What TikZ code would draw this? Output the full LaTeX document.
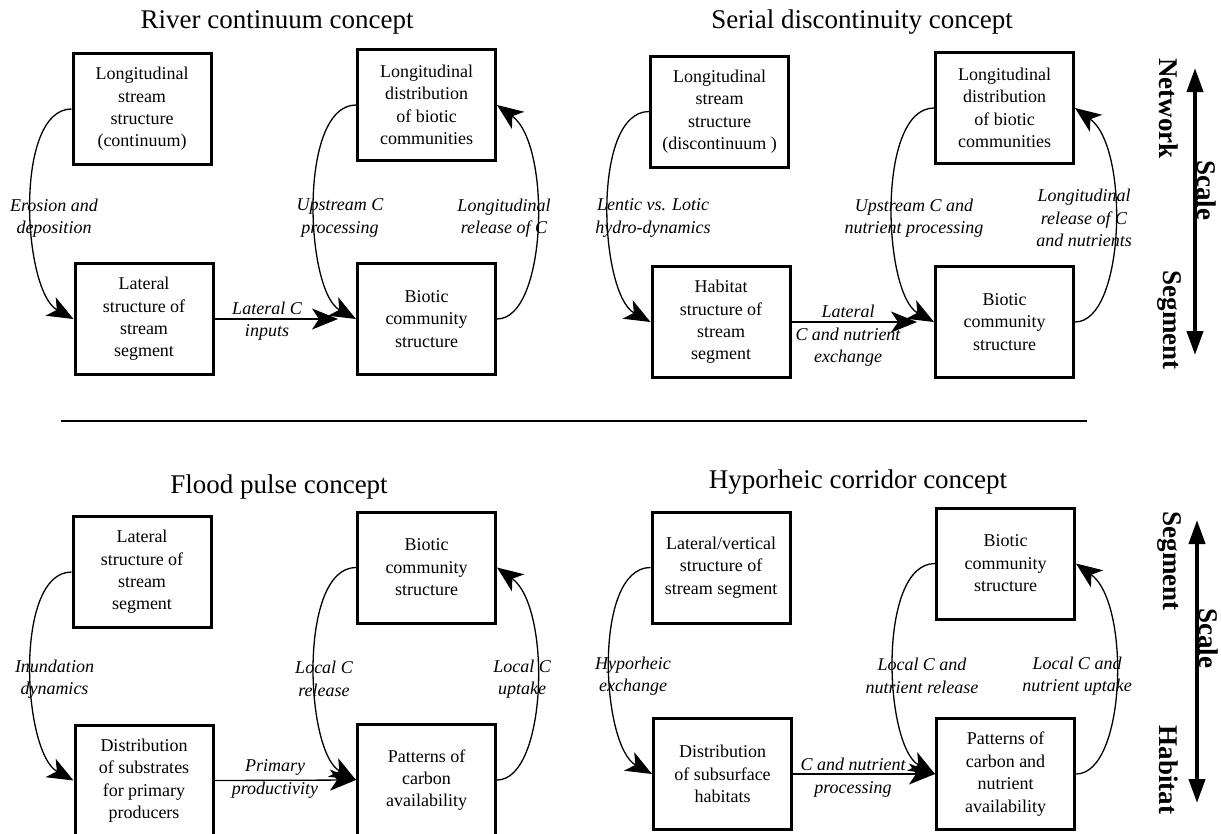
\documentclass[tikz,border=0pt]{standalone}
\usepackage{fontspec}
\setmainfont{Liberation Serif}
\usetikzlibrary{arrows.meta}

\begin{document}
\begin{tikzpicture}[x=1pt,y=-1pt,
    box/.style={draw, line width=3pt, minimum width=138pt, minimum height=111pt, inner sep=0pt, align=center, font=\fontsize{18}{22.4}\selectfont},
    lbl/.style={align=center, font=\itshape\fontsize{18}{22.4}\selectfont},
    ttl/.style={font=\fontsize{27}{32}\selectfont},
    scl/.style={rotate=-90, font=\bfseries\fontsize{27}{32}\selectfont},
    flow/.style={line width=1.3pt, -{Stealth[length=26pt,width=21pt,inset=7pt]}},
    scalearrow/.style={line width=4pt, {Triangle[length=24pt,width=16pt]}-{Triangle[length=24pt,width=16pt]}}]
    \useasboundingbox (0,0) rectangle (1221,833);
    \clip (0,0) rectangle (1221,833);

    %River continuum concept
    \node[ttl] (t1) at (277,22) {River continuum concept};
    \node[box] (a1) at (142,109) {Longitudinal\\stream\\structure\\(continuum)};
    \node[box] (a2) at (144,319) {Lateral\\structure of\\stream\\segment};
    \node[box] (a3) at (426.5,105) {Longitudinal\\distribution\\of biotic\\communities};
    \node[box] (a4) at (426.5,319) {Biotic\\community\\structure};
    \draw[flow] (a1.west) .. controls +(-58,0) and +(-51,-28) .. (a2.west);
    \draw[flow] (a3.west) .. controls +(-58,0) and +(-51,-28) .. (a4.west);
    \draw[flow] (a4.east) .. controls +(50,0) and +(55,40) .. (a3.east);
    \draw[flow, shorten >=18pt] (a2.east) -- (a4.west);
    \node[lbl] (la1) at (54,218) {Erosion and\\deposition};
    \node[lbl] (la2) at (340,218) {Upstream C\\processing};
    \node[lbl] (la3) at (504,218) {Longitudinal\\release of C};
    \node[lbl] (la4) at (267,321) {Lateral C\\inputs};

    %Serial discontinuity concept
    \node[ttl] (t2) at (862,22) {Serial discontinuity concept};
    \node[box] (b1) at (719.5,111.5) {Longitudinal\\stream\\structure\\(discontinuum )};
    \node[box] (b2) at (721,322) {Habitat\\structure of\\stream\\segment};
    \node[box] (b3) at (1004.5,108) {Longitudinal\\distribution\\of biotic\\communities};
    \node[box] (b4) at (1004.5,322) {Biotic\\community\\structure};
    \draw[flow] (b1.west) .. controls +(-58,0) and +(-51,-28) .. (b2.west);
    \draw[flow] (b3.west) .. controls +(-58,0) and +(-51,-28) .. (b4.west);
    \draw[flow] (b4.east) .. controls +(50,0) and +(55,40) .. (b3.east);
    \draw[flow, shorten >=17pt] (b2.east) -- (b4.west);
    \node[lbl] (lb1) at (653,218) {Lentic vs. Lotic\\hydro-dynamics};
    \node[lbl] (lb2) at (914,218) {Upstream C and\\nutrient processing};
    \node[lbl] (lb3) at (1084,218) {Longitudinal\\release of C\\and nutrients};
    \node[lbl] (lb4) at (848,336) {Lateral\\C and nutrient\\exchange};

    %escala
    \coordinate (s1) at (1195,68);
    \coordinate (s2) at (1195,355);
    \draw[scalearrow] (s1) -- (s2);
    \node[scl] (sn1) at (1169,108.5) {Network};
    \node[scl] (sn2) at (1169,320) {Segment};
    \node[scl] (sn3) at (1207,190) {Scale};

    \coordinate (sepL) at (61,421);
    \coordinate (sepR) at (1087,421);
    \draw[line width=1.5pt] (sepL) -- (sepR);

    %Flood pulse concept
    \node[ttl] (t3) at (279,487) {Flood pulse concept};
    \node[box] (c1) at (142,572) {Lateral\\structure of\\stream\\segment};
    \node[box] (c2) at (144,780.5) {Distribution\\of substrates\\for primary\\producers};
    \node[box] (c3) at (426.5,567.5) {Biotic\\community\\structure};
    \node[box] (c4) at (426.5,780) {Patterns of\\carbon\\availability};
    \draw[flow] (c1.west) .. controls +(-58,0) and +(-51,-28) .. (c2.west);
    \draw[flow] (c3.west) .. controls +(-58,0) and +(-51,-28) .. (c4.west);
    \draw[flow] (c4.east) .. controls +(50,0) and +(55,40) .. (c3.east);
    \draw[flow] (c2.east) -- (c4.west);
    \node[lbl] (lc1) at (54.5,679) {Inundation\\dynamics};
    \node[lbl] (lc2) at (324,679) {Local C\\release};
    \node[lbl] (lc3) at (522,679) {Local C\\uptake};
    \node[lbl] (lc4) at (275,779) {Primary\\productivity};

    %Hyporheic corridor concept
    \node[ttl] (t4) at (858,482) {Hyporheic corridor concept};
    \node[box] (d1) at (721,567.5) {Lateral/vertical\\structure of\\stream segment};
    \node[box] (d2) at (722.5,774) {Distribution\\of subsurface\\habitats};
    \node[box] (d3) at (1005.5,563.5) {Biotic\\community\\structure};
    \node[box] (d4) at (1005.5,774) {Patterns of\\carbon and\\nutrient\\availability};
    \draw[flow] (d1.west) .. controls +(-58,0) and +(-51,-28) .. (d2.west);
    \draw[flow] (d3.west) .. controls +(-58,0) and +(-51,-28) .. (d4.west);
    \draw[flow] (d4.east) .. controls +(50,0) and +(55,40) .. (d3.east);
    \draw[flow] (d2.east) -- (d4.west);
    \node[lbl] (ld1) at (633,676) {Hyporheic\\exchange};
    \node[lbl] (ld2) at (922,676) {Local C and\\nutrient release};
    \node[lbl] (ld3) at (1077,676) {Local C and\\nutrient uptake};
    \node[lbl] (ld4) at (853,777.5) {C and nutrient\\processing};

    %escala
    \coordinate (s3) at (1197,520);
    \coordinate (s4) at (1197,803);
    \draw[scalearrow] (s3) -- (s4);
    \node[scl] (sn4) at (1169,561) {Segment};
    \node[scl] (sn5) at (1169,770) {Habitat};
    \node[scl] (sn6) at (1209,638) {Scale};
\end{tikzpicture}
\end{document}
